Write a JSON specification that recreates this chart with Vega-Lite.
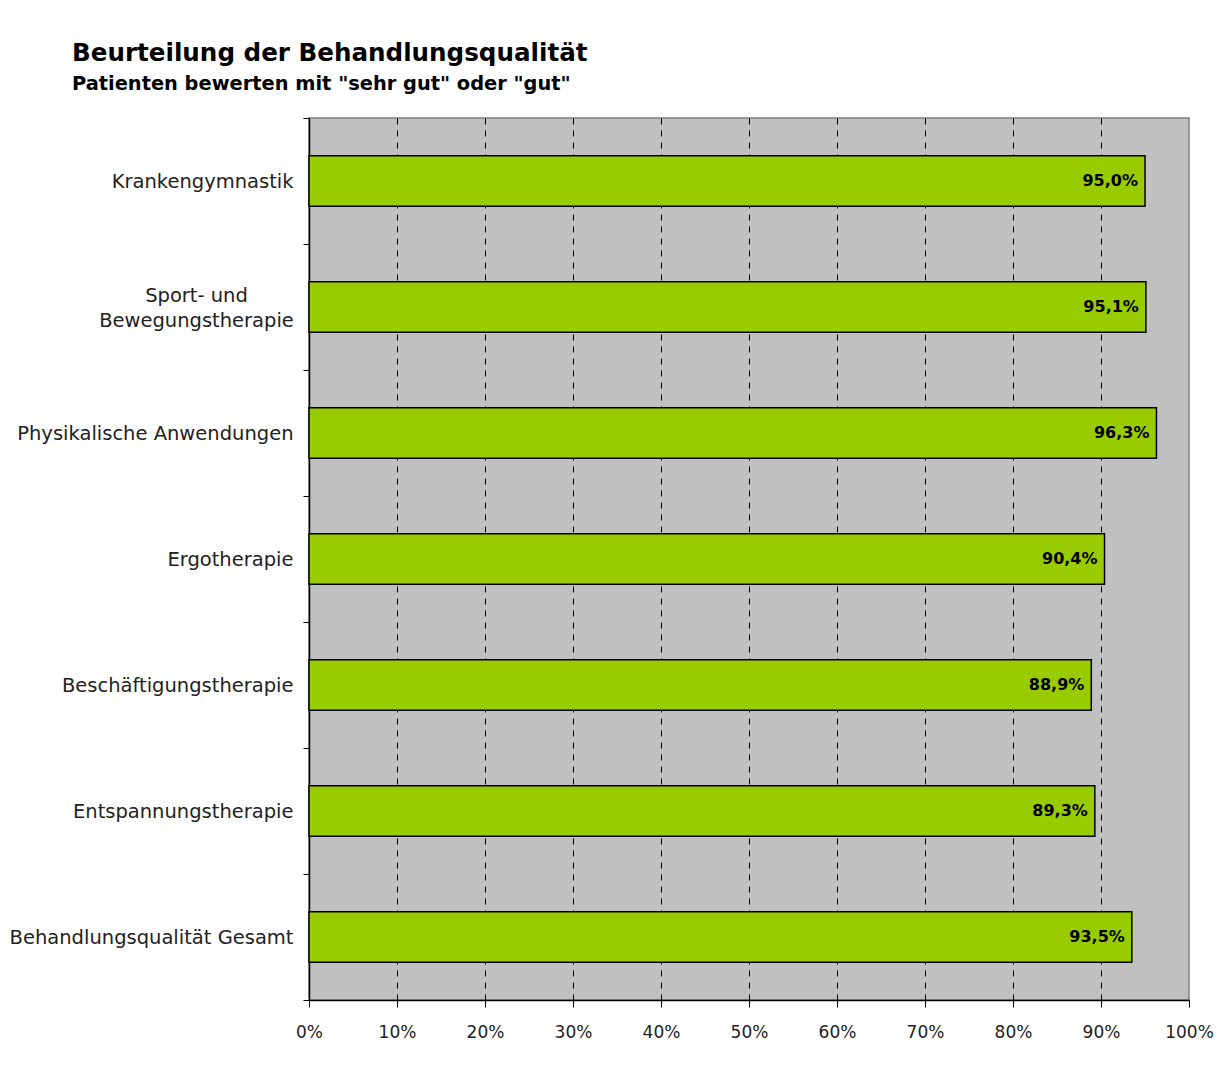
{
  "$schema": "https://vega.github.io/schema/vega-lite/v6.json",
  "width": 880,
  "height": 882,
  "autosize": "none",
  "padding": {"left": 309, "top": 118, "right": 38, "bottom": 77},
  "background": "white",
  "config": {
    "locale": {"number": {"decimal": ",", "thousands": ".", "grouping": [3], "currency": ["", " €"]}},
    "view": {"fill": "#C0C0C0", "stroke": "#808080", "strokeWidth": 1.5},
    "font": "DejaVu Sans"
  },
  "title": {
    "text": "Beurteilung der Behandlungsqualität",
    "subtitle": "Patienten bewerten mit \"sehr gut\" oder \"gut\"",
    "anchor": "start",
    "frame": "group",
    "dx": -237,
    "fontSize": 24.6,
    "fontWeight": "bold",
    "subtitleFontSize": 19.4,
    "subtitleFontWeight": "bold",
    "color": "black",
    "subtitleColor": "black",
    "offset": 14,
    "subtitlePadding": 8
  },
  "data": {
    "values": [
      {"Kategorie": "Krankengymnastik", "Wert": 0.950},
      {"Kategorie": "Sport- und Bewegungstherapie", "Wert": 0.951},
      {"Kategorie": "Physikalische Anwendungen", "Wert": 0.963},
      {"Kategorie": "Ergotherapie", "Wert": 0.904},
      {"Kategorie": "Beschäftigungstherapie", "Wert": 0.889},
      {"Kategorie": "Entspannungstherapie", "Wert": 0.893},
      {"Kategorie": "Behandlungsqualität Gesamt", "Wert": 0.935}
    ]
  },
  "encoding": {
    "y": {
      "field": "Kategorie",
      "type": "nominal",
      "sort": null,
      "scale": {"paddingInner": 0, "paddingOuter": 0},
      "axis": {
        "title": null,
        "tickBand": "extent",
        "tickSize": 6,
        "tickColor": "black",
        "domainColor": "black",
        "domainWidth": 1.5,
        "labelFontSize": 19.5,
        "labelColor": "#222222",
        "labelLineHeight": 25,
        "labelLimit": 0,
        "labelPadding": {"condition": {"test": "datum.value == 'Sport- und Bewegungstherapie'", "value": 107}, "value": 10},
        "labelAlign": {"condition": {"test": "datum.value == 'Sport- und Bewegungstherapie'", "value": "center"}, "value": "right"},
        "labelOffset": {"condition": {"test": "datum.value == 'Sport- und Bewegungstherapie'", "value": -12}, "value": 0},
        "grid": false,
        "labelExpr": "datum.label == 'Sport- und Bewegungstherapie' ? ['Sport- und', 'Bewegungstherapie'] : datum.label"
      }
    },
    "x": {
      "field": "Wert",
      "type": "quantitative",
      "scale": {"domain": [0, 1], "nice": false},
      "axis": {
        "title": null,
        "format": "%",
        "values": [0, 0.1, 0.2, 0.3, 0.4, 0.5, 0.6, 0.7, 0.8, 0.9, 1],
        "tickSize": 7,
        "tickColor": "black",
        "domainColor": "black",
        "domainWidth": 1.5,
        "labelPadding": 17,
        "labelFontSize": 17,
        "labelColor": "#222222",
        "labelFlush": false,
        "grid": true,
        "gridColor": "black",
        "gridDash": [6, 6],
        "gridOpacity": {"condition": {"test": "datum.value <= 0 || datum.value >= 1", "value": 0}, "value": 1}
      }
    }
  },
  "layer": [
    {
      "mark": {"type": "bar", "height": {"band": 0.4}, "fill": "#99CC00", "stroke": "black", "strokeWidth": 1.5}
    },
    {
      "mark": {"type": "text", "align": "right", "dx": -7, "fontWeight": "bold", "fontSize": 16, "color": "black"},
      "encoding": {"text": {"field": "Wert", "type": "quantitative", "format": ".1%"}}
    }
  ]
}
